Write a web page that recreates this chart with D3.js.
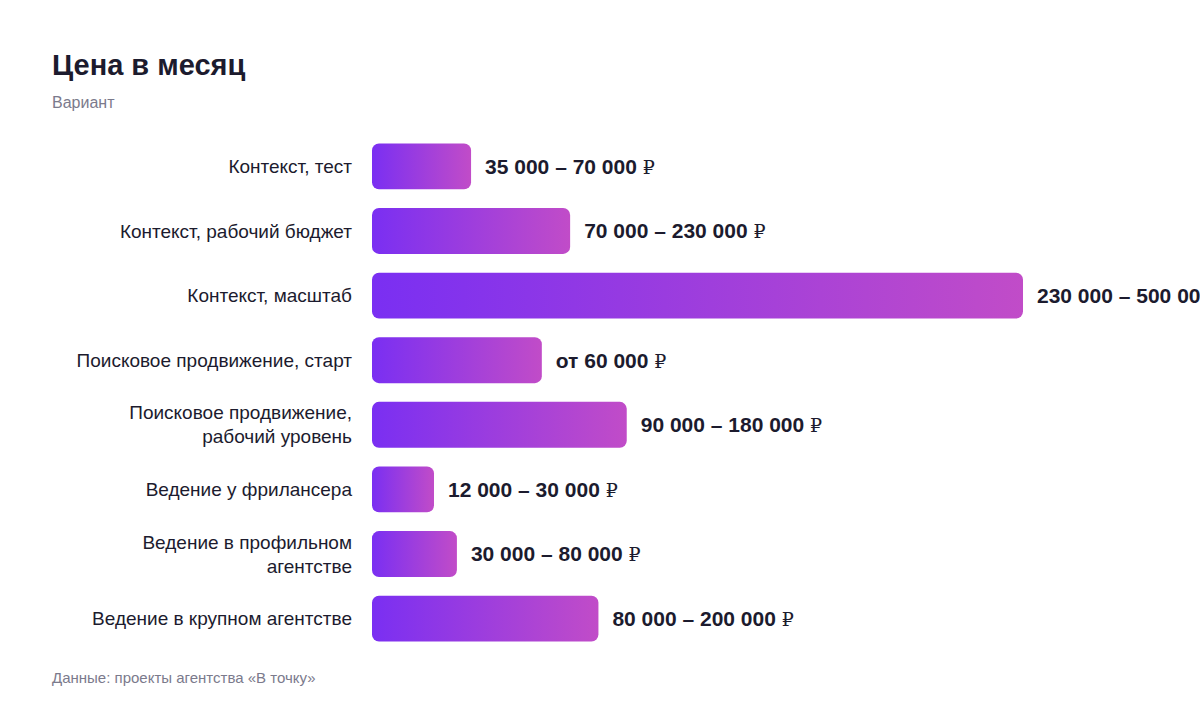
<!DOCTYPE html>
<html>
<head>
<meta charset="utf-8">
<script src="https://cdn.jsdelivr.net/npm/d3@7"></script>
<style>
  body { margin: 0; background: #fff; font-family: "Liberation Sans", Arial, sans-serif; }
  svg { display: block; }
</style>
</head>
<body>
<div id="chart"></div>
<script>
var categories = [
  "Контекст, тест",
  "Контекст, рабочий бюджет",
  "Контекст, масштаб",
  "Поисковое продвижение, старт",
  "Поисковое продвижение,|рабочий уровень",
  "Ведение у фрилансера",
  "Ведение в профильном|агентстве",
  "Ведение в крупном агентстве"
];
var lowValues = [35000, 70000, 230000, 60000, 90000, 12000, 30000, 80000];
var valueLabels = [
  "35 000 – 70 000",
  "70 000 – 230 000",
  "230 000 – 500 000",
  "от 60 000",
  "90 000 – 180 000",
  "12 000 – 30 000",
  "30 000 – 80 000",
  "80 000 – 200 000"
];
var currency = "₽";

var svgWidth = 1200;
var svgHeight = 712;
var margin = {top: 135, left: 372, bottom: 62};
var barAreaWidth = 651;
var minBarWidth = 62;

var svg = d3.select("#chart").append("svg")
    .attr("width", svgWidth)
    .attr("height", svgHeight);

var defs = svg.append("defs");
var grad = defs.append("linearGradient")
    .attr("id", "barGrad")
    .attr("x1", "0%").attr("x2", "100%")
    .attr("y1", "0%").attr("y2", "0%");
grad.append("stop").attr("offset", "0%").attr("stop-color", "#7a2ff2");
grad.append("stop").attr("offset", "100%").attr("stop-color", "#c14cc8");

var rows = categories.map(function(c, i) {
    return {label: c, value: lowValues[i], text: valueLabels[i]};
});

var xScale = d3.scaleLinear()
    .domain([0, d3.max(lowValues)])
    .range([0, barAreaWidth]);

var yScale = d3.scaleBand()
    .domain(d3.range(rows.length))
    .range([margin.top, svgHeight - margin.bottom])
    .paddingInner(0.29)
    .paddingOuter(0.13);

// title block
svg.append("text")
    .attr("x", 52).attr("y", 75)
    .style("font-size", "29px")
    .style("font-weight", "bold")
    .style("fill", "#1c1b2e")
    .text("Цена в месяц");

svg.append("text")
    .attr("x", 52).attr("y", 108)
    .style("font-size", "16px")
    .style("fill", "#7b7a8c")
    .text("Вариант");

var g = svg.selectAll(".row")
    .data(rows)
    .enter()
    .append("g")
    .attr("class", "row");

function barW(d) {
    return Math.max(xScale(d.value), minBarWidth);
}

g.append("rect")
    .attr("x", margin.left)
    .attr("y", function(d, i) { return yScale(i); })
    .attr("width", barW)
    .attr("height", yScale.bandwidth())
    .attr("rx", 7)
    .attr("fill", "url(#barGrad)");

// category labels (some on two lines)
g.append("text")
    .attr("text-anchor", "end")
    .style("font-size", "19px")
    .style("fill", "#1c1b2e")
    .each(function(d, i) {
        var lines = d.label.split("|");
        var cy = yScale(i) + yScale.bandwidth() / 2;
        var lh = 24;
        var start = cy - (lines.length - 1) * lh / 2;
        var t = d3.select(this);
        lines.forEach(function(l, k) {
            t.append("tspan")
                .attr("x", 352)
                .attr("y", start + k * lh)
                .attr("dy", "0.35em")
                .text(l);
        });
    });

// value labels
var vl = g.append("text")
    .attr("x", function(d) { return margin.left + barW(d) + 14; })
    .attr("y", function(d, i) { return yScale(i) + yScale.bandwidth() / 2; })
    .attr("dy", "0.35em")
    .style("font-size", "21px")
    .style("font-weight", "bold")
    .style("fill", "#1c1b2e");

vl.append("tspan").text(function(d) { return d.text + " "; });
vl.append("tspan")
    .style("font-family", "'DejaVu Serif', serif")
    .style("font-weight", "normal")
    .style("font-size", "19px")
    .text(currency);

svg.append("text")
    .attr("x", 52).attr("y", 683)
    .style("font-size", "15px")
    .style("fill", "#7b7a8c")
    .text("Данные: проекты агентства «В точку»");
</script>
</body>
</html>
